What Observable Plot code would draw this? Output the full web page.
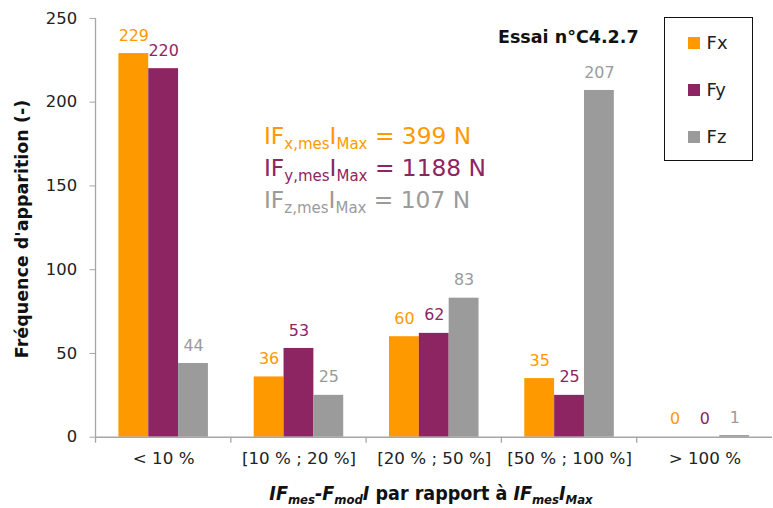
<!DOCTYPE html>
<html><head><meta charset="utf-8">
<script src="https://cdn.jsdelivr.net/npm/d3@7"></script>
<script src="https://cdn.jsdelivr.net/npm/@observablehq/plot@0.6"></script>
<style>
html,body{margin:0;padding:0;background:#fff;}
#wrap{position:relative;width:773px;height:508px;overflow:hidden;font-family:"DejaVu Sans",sans-serif;color:#222;}
#wrap svg{position:absolute;left:0;top:0;}
.ov{position:absolute;white-space:nowrap;line-height:1;}
.sb{position:relative;font-size:15px;top:5px;}
.xt .sb{font-size:13px;top:4px;}
.leg{position:absolute;left:663.5px;top:17.3px;width:89px;height:144px;box-sizing:border-box;border:1.4px solid #111;background:#fff;}
.sw{position:absolute;width:12px;height:12px;}
.lt{position:absolute;font-size:18px;line-height:1;color:#222;}
</style>
</head><body>
<div id="wrap"></div>
<script>
const categories = ["< 10 %", "[10 % ; 20 %]", "[20 % ; 50 %]", "[50 % ; 100 %]", "> 100 %"];
const series = ["Fx", "Fy", "Fz"];
const valuesFx = [229, 36, 60, 35, 0];
const valuesFy = [220, 53, 62, 25, 0];
const valuesFz = [44, 25, 83, 207, 1];
const yTicks = [0, 50, 100, 150, 200, 250];
const colors = ["#FF9900", "#8E2563", "#9B9B9B"];
const maxAxes = ["x", "y", "z"];
const maxValues = [399, 1188, 107];
const titleText = "Essai n°C4.2.7";
const yLabel = "Fréquence d'apparition (-)";

const seriesValues = [valuesFx, valuesFy, valuesFz];
const data = categories.flatMap((c, i) => series.map((s, j) => ({cat: c, series: s, value: seriesValues[j][i]})));

const chart = Plot.plot({
  width: 777, height: 508,
  marginLeft: 95, marginRight: 0, marginTop: 18, marginBottom: 69,
  style: {fontFamily: '"DejaVu Sans", sans-serif', fontSize: "16.5px", color: "#222", background: "transparent"},
  fx: {domain: categories, padding: 0, label: null},
  x: {domain: series, paddingInner: 0, paddingOuter: 0.714, axis: null},
  y: {domain: [0, 250]},
  color: {domain: series, range: colors},
  marks: [
    Plot.barY(data, {fx: "cat", x: "series", y: "value", fill: "series"}),
    Plot.text(data, {fx: "cat", x: "series", y: "value", text: d => String(d.value), fill: "series", dy: -13, lineAnchor: "bottom", fontSize: 16}),
    Plot.ruleY([0], {stroke: "#a6a6a6", strokeWidth: 1.3}),
    Plot.axisY(yTicks, {tickSize: 6, tickPadding: 13, stroke: "#a6a6a6", fill: "#222", fontSize: 16.5, label: null}),
    Plot.axisFx({anchor: "bottom", tickSize: 0, tickPadding: 15, fill: "#222", fontSize: 16.8, label: null})
  ]
});

const wrap = document.getElementById("wrap");
wrap.appendChild(chart);

// axis line and category boundary ticks from the library's scales
const svg = d3.select(chart);
const fxS = chart.scale("fx"), yS = chart.scale("y");
const y0 = yS.apply(0);
const g = svg.append("g").attr("stroke", "#a6a6a6").attr("stroke-width", 1.3);
g.append("line").attr("x1", fxS.apply(categories[0])).attr("x2", fxS.apply(categories[0]))
  .attr("y1", yS.apply(yTicks[yTicks.length - 1])).attr("y2", y0 + 6);
categories.slice(1).forEach(c => {
  g.append("line").attr("x1", fxS.apply(c)).attr("x2", fxS.apply(c)).attr("y1", y0).attr("y2", y0 + 6);
});

function add(html, css, cls) {
  const d = document.createElement("div");
  d.className = "ov" + (cls ? " " + cls : "");
  d.innerHTML = html;
  Object.assign(d.style, css);
  wrap.appendChild(d);
  return d;
}

// title
add(titleText, {left: "498px", top: "29px", fontSize: "17.5px", fontWeight: "bold", color: "#111"});

// annotation
maxAxes.forEach((a, i) => {
  add(`IF<span class="sb">${a},mes</span>I<span class="sb">Max</span> = ${maxValues[i]} N`,
    {left: "264px", top: (123.5 + i * 32) + "px", fontSize: "23.3px", color: colors[i]});
});

// y title
add(yLabel, {left: "23px", top: "229px", fontSize: "17.5px", fontWeight: "bold", color: "#111",
  transform: "translate(-50%,-50%) rotate(-90deg)"});

// x title
add(`<i>IF<span class="sb">mes</span>-F<span class="sb">mod</span>I</i> par rapport à <i>IF<span class="sb">mes</span>I<span class="sb">Max</span></i>`,
  {left: "431px", top: "484px", fontSize: "19.5px", fontWeight: "bold", color: "#111", transform: "translateX(-50%)",
   fontFamily: '"DejaVu Sans Condensed","Liberation Sans Narrow","DejaVu Sans",sans-serif', fontStretch: "condensed"}, "xt");

// legend
const leg = document.createElement("div");
leg.className = "leg";
wrap.appendChild(leg);
const legCenters = [43, 90, 137];
series.forEach((s, i) => {
  const sw = document.createElement("div");
  sw.className = "sw";
  Object.assign(sw.style, {left: (688 - 663.5 - 1.4) + "px", top: (legCenters[i] - 6 - 17.3 - 1.4) + "px", background: colors[i]});
  leg.appendChild(sw);
  const t = document.createElement("div");
  t.className = "lt";
  t.textContent = s;
  Object.assign(t.style, {left: (707 - 663.5 - 1.4) + "px", top: (legCenters[i] - 9 - 17.3 - 1.4 + 0.5) + "px"});
  leg.appendChild(t);
});
</script>
</body></html>
